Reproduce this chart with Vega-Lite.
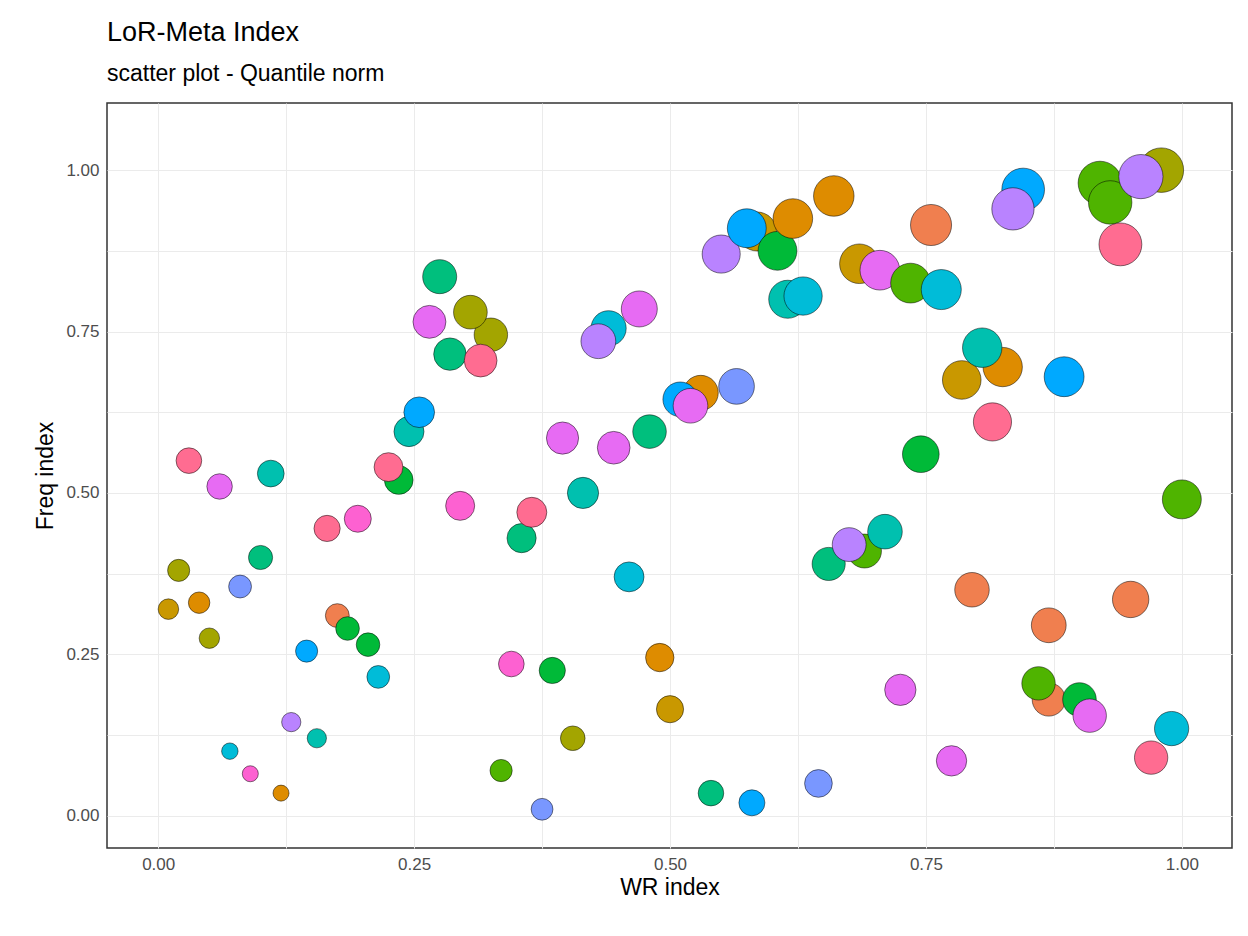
{
  "$schema": "https://vega.github.io/schema/vega-lite/v6.json",
  "width": 1125,
  "height": 745,
  "autosize": "none",
  "padding": {"left": 107, "top": 103, "right": 16, "bottom": 88},
  "background": "white",
  "title": {
    "text": "LoR-Meta Index",
    "subtitle": "scatter plot - Quantile norm",
    "anchor": "start",
    "frame": "group",
    "font": "Liberation Sans",
    "fontSize": 27,
    "fontWeight": "normal",
    "subtitleFont": "Liberation Sans",
    "subtitleFontSize": 23,
    "subtitlePadding": 16,
    "offset": 16,
    "color": "black",
    "subtitleColor": "black"
  },
  "config": {
    "view": {"stroke": "#333333", "strokeWidth": 1.5},
    "axis": {
      "gridColor": "#ebebeb",
      "labelFont": "Liberation Sans",
      "labelFontSize": 17,
      "labelColor": "#4d4d4d",
      "titleFont": "Liberation Sans",
      "titleFontSize": 23,
      "titleFontWeight": "normal",
      "titleColor": "black",
      "ticks": false,
      "labelPadding": 8,
      "domain": false
    }
  },
  "data": {
    "values": [
      {"wr": 0.01, "freq": 0.32, "g": "C"}, {"wr": 0.02, "freq": 0.38, "g": "D"},
      {"wr": 0.04, "freq": 0.33, "g": "B"}, {"wr": 0.05, "freq": 0.275, "g": "D"},
      {"wr": 0.03, "freq": 0.55, "g": "O"}, {"wr": 0.06, "freq": 0.51, "g": "M"},
      {"wr": 0.07, "freq": 0.10, "g": "I"}, {"wr": 0.09, "freq": 0.065, "g": "N"},
      {"wr": 0.08, "freq": 0.355, "g": "K"}, {"wr": 0.10, "freq": 0.40, "g": "G"},
      {"wr": 0.11, "freq": 0.53, "g": "H"}, {"wr": 0.12, "freq": 0.035, "g": "B"},
      {"wr": 0.13, "freq": 0.145, "g": "L"}, {"wr": 0.145, "freq": 0.255, "g": "J"},
      {"wr": 0.155, "freq": 0.12, "g": "H"}, {"wr": 0.165, "freq": 0.445, "g": "O"},
      {"wr": 0.175, "freq": 0.31, "g": "A"}, {"wr": 0.185, "freq": 0.29, "g": "F"},
      {"wr": 0.195, "freq": 0.46, "g": "N"}, {"wr": 0.205, "freq": 0.265, "g": "F"},
      {"wr": 0.215, "freq": 0.215, "g": "I"}, {"wr": 0.235, "freq": 0.52, "g": "F"},
      {"wr": 0.225, "freq": 0.54, "g": "O"}, {"wr": 0.245, "freq": 0.595, "g": "H"},
      {"wr": 0.255, "freq": 0.625, "g": "J"}, {"wr": 0.275, "freq": 0.835, "g": "G"},
      {"wr": 0.265, "freq": 0.765, "g": "M"}, {"wr": 0.285, "freq": 0.715, "g": "G"},
      {"wr": 0.295, "freq": 0.48, "g": "N"}, {"wr": 0.325, "freq": 0.745, "g": "D"},
      {"wr": 0.305, "freq": 0.78, "g": "D"}, {"wr": 0.315, "freq": 0.705, "g": "O"},
      {"wr": 0.335, "freq": 0.07, "g": "E"}, {"wr": 0.345, "freq": 0.235, "g": "N"},
      {"wr": 0.355, "freq": 0.43, "g": "G"}, {"wr": 0.365, "freq": 0.47, "g": "O"},
      {"wr": 0.375, "freq": 0.01, "g": "K"}, {"wr": 0.385, "freq": 0.225, "g": "F"},
      {"wr": 0.395, "freq": 0.585, "g": "M"}, {"wr": 0.405, "freq": 0.12, "g": "D"},
      {"wr": 0.415, "freq": 0.50, "g": "H"}, {"wr": 0.44, "freq": 0.755, "g": "I"},
      {"wr": 0.43, "freq": 0.735, "g": "L"}, {"wr": 0.445, "freq": 0.57, "g": "M"},
      {"wr": 0.46, "freq": 0.37, "g": "I"}, {"wr": 0.47, "freq": 0.785, "g": "M"},
      {"wr": 0.48, "freq": 0.595, "g": "G"}, {"wr": 0.49, "freq": 0.245, "g": "B"},
      {"wr": 0.50, "freq": 0.165, "g": "C"}, {"wr": 0.53, "freq": 0.655, "g": "B"},
      {"wr": 0.51, "freq": 0.645, "g": "J"}, {"wr": 0.52, "freq": 0.635, "g": "M"},
      {"wr": 0.54, "freq": 0.035, "g": "G"}, {"wr": 0.55, "freq": 0.87, "g": "L"},
      {"wr": 0.565, "freq": 0.665, "g": "K"}, {"wr": 0.58, "freq": 0.02, "g": "J"},
      {"wr": 0.585, "freq": 0.905, "g": "C"}, {"wr": 0.575, "freq": 0.91, "g": "J"},
      {"wr": 0.605, "freq": 0.875, "g": "F"}, {"wr": 0.615, "freq": 0.80, "g": "H"},
      {"wr": 0.62, "freq": 0.925, "g": "B"}, {"wr": 0.63, "freq": 0.805, "g": "I"},
      {"wr": 0.645, "freq": 0.05, "g": "K"}, {"wr": 0.66, "freq": 0.96, "g": "B"},
      {"wr": 0.655, "freq": 0.39, "g": "G"}, {"wr": 0.69, "freq": 0.41, "g": "E"},
      {"wr": 0.675, "freq": 0.42, "g": "L"}, {"wr": 0.685, "freq": 0.855, "g": "C"},
      {"wr": 0.705, "freq": 0.845, "g": "M"}, {"wr": 0.71, "freq": 0.44, "g": "H"},
      {"wr": 0.725, "freq": 0.195, "g": "M"}, {"wr": 0.735, "freq": 0.825, "g": "E"},
      {"wr": 0.745, "freq": 0.56, "g": "F"}, {"wr": 0.755, "freq": 0.915, "g": "A"},
      {"wr": 0.765, "freq": 0.815, "g": "I"}, {"wr": 0.775, "freq": 0.085, "g": "M"},
      {"wr": 0.785, "freq": 0.675, "g": "C"}, {"wr": 0.795, "freq": 0.35, "g": "A"},
      {"wr": 0.825, "freq": 0.695, "g": "B"}, {"wr": 0.805, "freq": 0.725, "g": "H"},
      {"wr": 0.815, "freq": 0.61, "g": "O"}, {"wr": 0.845, "freq": 0.97, "g": "J"},
      {"wr": 0.835, "freq": 0.94, "g": "L"}, {"wr": 0.87, "freq": 0.295, "g": "A"},
      {"wr": 0.87, "freq": 0.18, "g": "A"}, {"wr": 0.86, "freq": 0.205, "g": "E"},
      {"wr": 0.885, "freq": 0.68, "g": "J"}, {"wr": 0.90, "freq": 0.18, "g": "F"},
      {"wr": 0.91, "freq": 0.155, "g": "M"}, {"wr": 0.92, "freq": 0.98, "g": "E"},
      {"wr": 0.93, "freq": 0.95, "g": "E"}, {"wr": 0.94, "freq": 0.885, "g": "O"},
      {"wr": 0.95, "freq": 0.335, "g": "A"}, {"wr": 0.98, "freq": 1.0, "g": "D"},
      {"wr": 0.96, "freq": 0.99, "g": "L"}, {"wr": 0.97, "freq": 0.09, "g": "O"},
      {"wr": 0.99, "freq": 0.135, "g": "I"}, {"wr": 1.0, "freq": 0.49, "g": "E"}
    ]
  },
  "transform": [{"calculate": "datum.wr + datum.freq", "as": "score"}],
  "mark": {"type": "circle", "opacity": 1, "stroke": "black", "strokeWidth": 0.5},
  "encoding": {
    "x": {
      "field": "wr", "type": "quantitative", "title": "WR index",
      "scale": {"domain": [-0.05, 1.049], "nice": false, "zero": false},
      "axis": {"values": [0, 0.125, 0.25, 0.375, 0.5, 0.625, 0.75, 0.875, 1],
               "labelExpr": "datum.value * 4 % 1 == 0 ? format(datum.value, '.2f') : ''",
               "titlePadding": 4}
    },
    "y": {
      "field": "freq", "type": "quantitative", "title": "Freq index",
      "scale": {"domain": [-0.05, 1.104], "nice": false, "zero": false},
      "axis": {"values": [0, 0.125, 0.25, 0.375, 0.5, 0.625, 0.75, 0.875, 1],
               "labelExpr": "datum.value * 4 % 1 == 0 ? format(datum.value, '.2f') : ''",
               "titlePadding": 8}
    },
    "size": {"field": "score", "type": "quantitative", "legend": null,
             "scale": {"domain": [0, 2], "range": [110, 2000]}},
    "color": {
      "field": "g", "type": "nominal", "legend": null,
      "scale": {
        "domain": ["A","B","C","D","E","F","G","H","I","J","K","L","M","N","O"],
        "range": ["#F07F4F","#DE8C00","#C99800","#A3A500","#4FB400","#00BA38","#00BF7D","#00C0AF","#00BCD8","#00A9FF","#7997FF","#B983FF","#E76BF3","#FD61D1","#FF6C91"]
      }
    }
  }
}
